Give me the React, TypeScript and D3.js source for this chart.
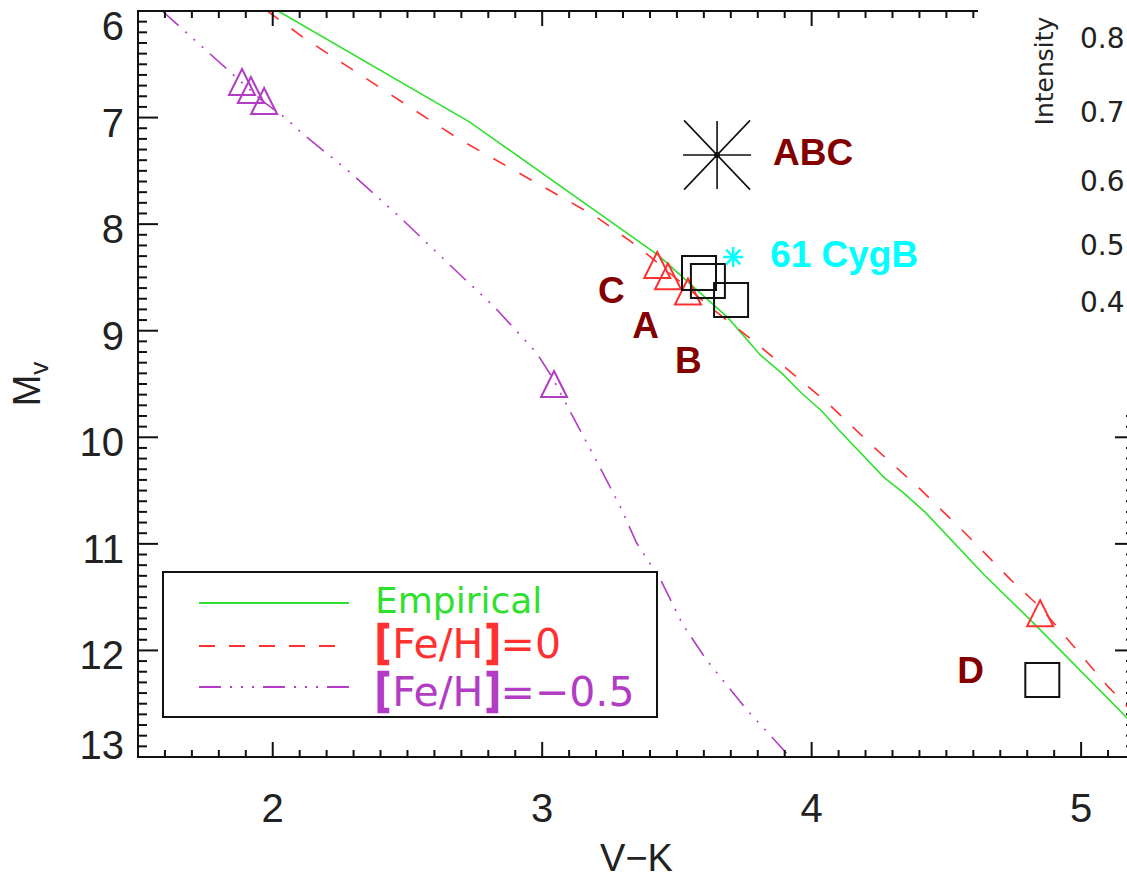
import * as d3 from "d3";

// empirical main sequence (green)
const empVK = [2.02, 2.73, 3.43, 3.69, 3.81, 3.89, 3.96, 4.04, 4.1, 4.27, 4.34, 4.42, 4.64, 4.83, 5.2];
const empMv = [6.0, 7.04, 8.29, 8.88, 9.23, 9.4, 9.58, 9.76, 9.93, 10.38, 10.52, 10.7, 11.29, 11.76, 12.71];

// [Fe/H]=0 model (red dashed)
const solVK = [1.98, 2.12, 2.69, 3.2, 3.36, 3.63, 3.8, 4.06, 4.23, 4.4, 4.57, 4.74, 4.85, 5.1, 5.2];
const solMv = [6.0, 6.26, 7.2, 7.93, 8.22, 8.79, 9.13, 9.68, 10.09, 10.48, 10.9, 11.34, 11.6, 12.34, 12.6];

// [Fe/H]=-0.5 model (purple dash-dot-dot)
const poorVK = [1.59, 1.96, 2.05, 2.11, 2.29, 2.47, 2.71, 2.82, 2.98, 3.04, 3.1, 3.22, 3.29, 3.35, 3.44, 3.52, 3.61, 3.76, 3.92];
const poorMv = [6.0, 6.84, 7.01, 7.15, 7.52, 7.93, 8.51, 8.77, 9.21, 9.45, 9.74, 10.31, 10.65, 10.99, 11.34, 11.75, 12.09, 12.56, 13.0];

// triangles on the model tracks
const solTriVK = [3.427, 3.467, 3.541, 4.848];
const solTriMv = [8.383, 8.49, 8.632, 11.65];
const poorTriVK = [1.886, 1.919, 1.968, 3.044];
const poorTriMv = [6.666, 6.741, 6.845, 9.5];

// components (squares)
const compVK = [3.582, 3.615, 3.701, 4.856];
const compMv = [8.458, 8.534, 8.712, 12.278];

// combined system and 61 Cyg B
const sysVK = 3.649;
const sysMv = 7.351;
const cygVK = 3.709;
const cygMv = 8.308;

// annotations
const noteText = ["ABC", "61 CygB", "C", "A", "B", "D"];
const noteVK = [3.857, 3.846, 3.207, 3.334, 3.493, 4.54];
const noteMv = [7.445, 8.4, 8.74, 9.07, 9.4, 12.31];

const xMajor = [2, 3, 4, 5];
const yMajor = [6, 7, 8, 9, 10, 11, 12, 13];
const intensityTicks = [0.8, 0.7, 0.6, 0.5, 0.4];

const GREEN = "#2fe02f";
const RED = "#ff3030";
const PURPLE = "#b23cc4";
const DARKRED = "#840000";
const CYAN = "#00ffff";

export default function App() {
  const W = 1127;
  const H = 879;
  const plot = { left: 138, right: 1135, top: 11, bottom: 757 };

  const x = d3.scaleLinear().domain([1.5, 5.2]).range([plot.left, plot.right]);
  const y = d3.scaleLinear().domain([6, 13]).range([plot.top, plot.bottom]);
  const yInt = d3.scalePow().exponent(1.5).domain([0.4, 0.8]).range([302, 38]);

  const line = d3
    .line<[number, number]>()
    .x((d) => x(d[0]))
    .y((d) => y(d[1]));

  const zip = (a: number[], b: number[]) => a.map((v, i) => [v, b[i]] as [number, number]);

  const xMinor = d3.range(15, 53).map((i) => i / 10);
  const yMinor = d3.range(60, 131).map((i) => i / 10);

  const tri = (s: number) => `M0,${-s}L${s},${s}L${-s},${s}Z`;
  const sq = (s: number) => `M${-s},${-s}H${s}V${s}H${-s}Z`;
  const star = (h: number, d: number) =>
    `M${-h},0H${h}M0,${-h}V${h}M${-d},${-d * 1.05}L${d},${d * 1.05}M${-d},${d * 1.05}L${d},${-d * 1.05}`;

  const tickFont = "'Liberation Sans', Arial, sans-serif";
  const thinFont = "'DejaVu Sans', sans-serif";
  const boldFont = "'Liberation Sans', Arial, sans-serif";

  const legendRows = [
    { y: 603, color: GREEN, dash: undefined as string | undefined },
    { y: 646, color: RED, dash: "16 14" },
    { y: 687, color: PURPLE, dash: "22 9 2 9 2 9 2 9" },
  ];

  const bracket = (c: string, t: string) => (
    <tspan fontSize={44} stroke={c} strokeWidth={2.5}>
      {t}
    </tspan>
  );

  return (
    <svg
      width={W}
      height={H}
      style={{ position: "absolute", left: 0, top: 0, background: "#fff" }}
    >
      <rect width={W} height={H} fill="#fff" />
      <defs>
        <clipPath id="plotclip">
          <rect x={plot.left} y={plot.top} width={plot.right - plot.left} height={plot.bottom - plot.top} />
        </clipPath>
      </defs>

      <g clipPath="url(#plotclip)" fill="none">
        <path d={line(zip(empVK, empMv))!} stroke={GREEN} strokeWidth={1.6} />
        <path d={line(zip(solVK, solMv))!} stroke={RED} strokeWidth={1.6} strokeDasharray="14 16" />
        <path d={line(zip(poorVK, poorMv))!} stroke={PURPLE} strokeWidth={1.6} strokeDasharray="22 9 2 9 2 9 2 9" />

        {solTriVK.map((v, i) => (
          <path key={"st" + i} d={tri(13)} transform={`translate(${x(v)},${y(solTriMv[i])})`} stroke={RED} strokeWidth={2} />
        ))}
        {poorTriVK.map((v, i) => (
          <path key={"pt" + i} d={tri(13)} transform={`translate(${x(v)},${y(poorTriMv[i])})`} stroke={PURPLE} strokeWidth={2} />
        ))}
        {compVK.map((v, i) => (
          <path key={"sq" + i} d={sq(17)} transform={`translate(${x(v)},${y(compMv[i])})`} stroke="#111" strokeWidth={2} />
        ))}
        <g transform={`translate(${x(sysVK)},${y(sysMv)})`}>
          <path d={star(34, 33)} stroke="#111" strokeWidth={1.6} />
          <circle r={3} fill="#111" />
        </g>
        <path d={star(10, 7)} transform={`translate(${x(cygVK)},${y(cygMv)})`} stroke={CYAN} strokeWidth={2.4} />
      </g>

      {noteText.map((t, i) => (
        <text
          key={"n" + i}
          x={x(noteVK[i])}
          y={y(noteMv[i])}
          fill={t === "61 CygB" ? CYAN : DARKRED}
          fontFamily={boldFont}
          fontWeight="bold"
          fontSize={37}
        >
          {t}
        </text>
      ))}

      {/* legend */}
      <rect x={163} y={572} width={494} height={145} fill="#fff" stroke="#111" strokeWidth={2} />
      {legendRows.map((r, i) => (
        <line key={"l" + i} x1={199} x2={349} y1={r.y} y2={r.y} stroke={r.color} strokeWidth={1.8} strokeDasharray={r.dash} />
      ))}
      <text x={375} y={613} fill={GREEN} fontFamily={thinFont} fontSize={36}>
        Empirical
      </text>
      <text x={375} y={658} fill={RED} fontFamily={thinFont} fontSize={41}>
        {bracket(RED, "[")}
        <tspan>Fe/H</tspan>
        {bracket(RED, "]")}
        <tspan>=0</tspan>
      </text>
      <text x={375} y={706} fill={PURPLE} fontFamily={thinFont} fontSize={41}>
        {bracket(PURPLE, "[")}
        <tspan>Fe/H</tspan>
        {bracket(PURPLE, "]")}
        <tspan>=−0.5</tspan>
      </text>

      {/* frame */}
      <g stroke="#111" strokeWidth={2} fill="none">
        <rect x={plot.left} y={plot.top} width={plot.right - plot.left} height={plot.bottom - plot.top} />
        {xMinor.map((v) => {
          const major = xMajor.includes(Math.round(v * 10) / 10);
          const len = major ? 15 : 7;
          return (
            <g key={"xt" + v}>
              <line x1={x(v)} x2={x(v)} y1={plot.bottom} y2={plot.bottom - len} />
              <line x1={x(v)} x2={x(v)} y1={plot.top} y2={plot.top + len} />
            </g>
          );
        })}
        {yMinor.map((v) => {
          const major = yMajor.includes(Math.round(v * 10) / 10);
          const len = major ? 20 : 9;
          return (
            <g key={"yt" + v}>
              <line x1={plot.left} x2={plot.left + len} y1={y(v)} y2={y(v)} />
              <line x1={plot.right} x2={plot.right - len} y1={y(v)} y2={y(v)} />
            </g>
          );
        })}
      </g>

      {/* tick labels */}
      {xMajor.map((v) => (
        <text key={"xl" + v} x={x(v)} y={822} textAnchor="middle" fontFamily={tickFont} fontSize={40} fill="#222">
          {v}
        </text>
      ))}
      {yMajor.map((v) => (
        <text
          key={"yl" + v}
          x={124}
          y={Math.min(Math.max(y(v) + 19, 40), 759)}
          textAnchor="end"
          fontFamily={tickFont}
          fontSize={40}
          fill="#222"
        >
          {v}
        </text>
      ))}
      <text x={x(3.35)} y={871} textAnchor="middle" fontFamily={tickFont} fontSize={38} fill="#222">
        V−K
      </text>
      <text transform={`translate(40,${y(9.5)}) rotate(-90)`} textAnchor="middle" fontFamily={tickFont} fontSize={38} fill="#222">
        M
        <tspan fontSize={26} dy={8}>
          v
        </tspan>
      </text>

      {/* intensity scale overlay */}
      <rect x={978} y={0} width={160} height={412} fill="#fff" />
      <text transform="translate(1053,71) rotate(-90)" textAnchor="middle" fontFamily={thinFont} fontSize={25} fill="#222">
        Intensity
      </text>
      {intensityTicks.map((t) => (
        <text key={"it" + t} x={1080} y={yInt(t)} dy="0.36em" fontFamily={thinFont} fontSize={28} fill="#222">
          {t.toFixed(1)}
        </text>
      ))}
    </svg>
  );
}
